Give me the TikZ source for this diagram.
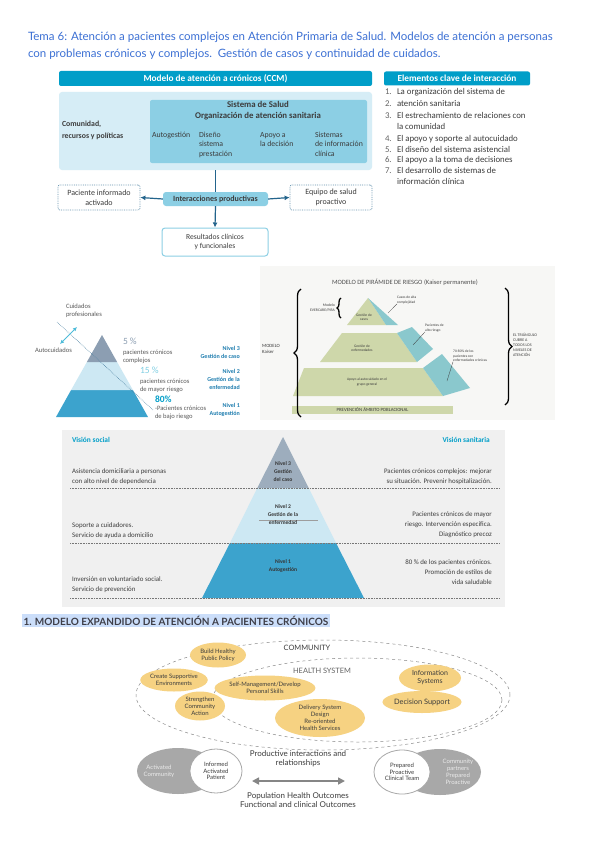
\documentclass[tikz,border=0pt]{standalone}
\usepackage{fontspec}
\setmainfont{Lato}
\newfontfamily\calfont{Carlito}
\usetikzlibrary{arrows.meta,shapes.geometric,decorations.pathreplacing}
\definecolor{titleblue}{RGB}{60,112,212}
\definecolor{ccmteal}{RGB}{0,158,200}
\definecolor{ccmlight}{RGB}{214,237,246}
\definecolor{ccmmid}{RGB}{140,207,228}
\definecolor{ccmarrow}{RGB}{35,100,140}
\definecolor{ink}{RGB}{60,60,60}
\definecolor{nivelteal}{RGB}{30,125,175}
\definecolor{pyrtop}{RGB}{140,158,178}
\definecolor{pyrmid}{RGB}{205,232,243}
\definecolor{pyrbot}{RGB}{60,163,205}
\definecolor{kgreen}{RGB}{206,215,170}
\definecolor{kteal}{RGB}{138,200,205}
\definecolor{kback}{RGB}{247,247,245}
\definecolor{panelgray}{RGB}{240,240,240}
\definecolor{ecmyellow}{RGB}{246,210,130}
\definecolor{ecmgray}{RGB}{168,168,168}
\definecolor{hlblue}{RGB}{203,222,250}
\definecolor{secink}{RGB}{62,62,72}
\begin{document}
\begin{tikzpicture}[x=1pt,y=-1pt,
  txt/.style={inner sep=0pt,outer sep=0pt,anchor=base west,text=ink},
  ccmtxt/.style={inner sep=0pt,outer sep=0pt,text=ink,font=\calfont\fontsize{7.8}{9.6}\selectfont},
  hdrbar/.style={fill=ccmteal,rounded corners=2pt,inner sep=0pt,text=white,font=\calfont\bfseries\fontsize{9.3}{10}\selectfont},
  dotbox/.style={draw=ccmarrow!70,densely dotted,line width=0.8pt,rounded corners=2pt,inner sep=0pt,align=center,text=ink,font=\calfont\fontsize{8}{9.6}\selectfont},
  conn/.style={draw=ccmarrow,line width=1.2pt},
  arr/.style={conn,-{Latex[length=5pt,width=5pt]}},
  listtxt/.style={txt,font=\calfont\fontsize{8.8}{10}\selectfont},
  pyrtxt/.style={txt,text=ink!85,font=\calfont\fontsize{6.6}{8}\selectfont},
  pct/.style={txt,font=\calfont\fontsize{9.5}{10}\selectfont},
  nivel/.style={inner sep=0pt,anchor=north east,align=right,text=nivelteal,font=\calfont\bfseries\fontsize{6}{8}\selectfont},
  ktiny/.style={inner sep=0pt,text=ink,font=\calfont\fontsize{3.6}{4.4}\selectfont,align=center},
  leader/.style={draw=ink,line width=0.3pt},
  bracedraw/.style={decorate,decoration={brace,amplitude=#1},line width=1.3pt},
  ptxt/.style={inner sep=0pt,text=ink,font=\calfont\fontsize{6.9}{9.8}\selectfont},
  pnivel/.style={inner sep=0pt,align=center,text=ink!90!black,font=\calfont\bfseries\fontsize{5.6}{8}\selectfont},
  dotline/.style={draw=ink!70,densely dotted,line width=0.6pt},
  yell/.style={ellipse,fill=ecmyellow,inner sep=0pt,align=center,text=ink,font=\fontsize{6}{7}\selectfont},
  ring/.style={ellipse,draw=ink!60,dashed,line width=0.5pt,inner sep=0pt},
  etxt/.style={inner sep=0pt,align=center,text=ink,font=\fontsize{8}{9.4}\selectfont}]
\path[use as bounding box,fill=white] (0,0) rectangle (600,848);
% title
\node[txt,text=titleblue,font=\fontsize{11.5}{12}\selectfont] (title1) at (28,41) {Tema 6: Atención a pacientes complejos en Atención Primaria de Salud. Modelos de atención a personas};
\node[txt,text=titleblue,font=\fontsize{11.5}{12}\selectfont] (title2) at (28,58) {con problemas crónicos y complejos.\ \ Gestión de casos y continuidad de cuidados.};
% CCM
\node[hdrbar,minimum width=313,minimum height=15] (ccmhdr) at (215.5,78.5) {Modelo de atención a crónicos (CCM)};
\node[fill=ccmlight,rounded corners=3pt,minimum width=313,minimum height=78,inner sep=0pt] (ccmbox) at (215.5,131) {};
\node[fill=ccmmid,rounded corners=2pt,minimum width=217,minimum height=63,inner sep=0pt] (sysbox) at (258.5,131.5) {};
\node[txt,font=\calfont\bfseries\fontsize{7.8}{8}\selectfont] (comun) at (62,127) {Comunidad,};
\node[txt,font=\calfont\bfseries\fontsize{7.8}{8}\selectfont] (recur) at (62,139) {recursos y políticas};
\node[inner sep=0pt,anchor=base,text=ink,font=\calfont\bfseries\fontsize{8.8}{9}\selectfont] (sissal) at (258,108) {Sistema de Salud};
\node[inner sep=0pt,anchor=base,text=ink,font=\calfont\bfseries\fontsize{8.8}{9}\selectfont] (orgsan) at (258,119) {Organización de atención sanitaria};
\node[ccmtxt,anchor=north west,align=left] (autog) at (152,132) {Autogestión};
\node[ccmtxt,anchor=north west,align=left] (disen) at (199,132) {Diseño\\sistema\\prestación};
\node[ccmtxt,anchor=north west,align=left] (apoyo) at (260,132) {Apoyo a\\la decisión};
\node[ccmtxt,anchor=north west,align=left] (sisinf) at (315,132) {Sistemas\\de información\\clínica};
\node[fill=ccmmid,rounded corners=3pt,minimum width=105,minimum height=14,inner sep=0pt,text=ink,font=\calfont\bfseries\fontsize{8}{8}\selectfont] (inter) at (215.5,199) {Interacciones productivas};
\node[dotbox,minimum width=82,minimum height=25] (pac) at (99,197.5) {Paciente informado\\activado};
\node[dotbox,minimum width=82,minimum height=25] (equ) at (331,197.5) {Equipo de salud\\proactivo};
\node[draw=ccmmid,line width=1pt,rounded corners=3pt,fill=white,minimum width=106,minimum height=28,inner sep=0pt,align=center,text=ink,font=\calfont\fontsize{7.6}{9}\selectfont] (res) at (215,242) {Resultados clínicos\\y funcionales};
\draw[conn] (ccmbox.south -| inter.north) -- (inter.north);
\draw[arr] (inter.west) -- (pac.east);
\draw[arr] (inter.east) -- (equ.west);
\draw[arr] (inter.south) -- (res.north);
% elementos clave
\node[hdrbar,minimum width=146,minimum height=14] (elemhdr) at (457,78.5) {Elementos clave de interacción};
\foreach \num/\yy/\ltext [count=\i] in {1./95/La organización del sistema de, 2./107/atención sanitaria, 3./119/El estrechamiento de relaciones con, /130/la comunidad, 4./142/El apoyo y soporte al autocuidado, 5./152/El diseño del sistema asistencial, 6./162/El apoyo a la toma de decisiones, 7./173/El desarrollo de sistemas de, /184/información clínica}
{
  \node[listtxt,text=ink!80] (num\i) at (385,\yy) {\num};
  \node[listtxt] (item\i) at (397,\yy) {\ltext};
}
% piramide de niveles (izquierda)
\fill[pyrbot] (56,417) -- (148,417) -- (132.9,390) -- (71.1,390) -- cycle;
\fill[pyrmid] (71.1,390) -- (132.9,390) -- (117.1,362) -- (86.9,362) -- cycle;
\fill[pyrtop] (86.9,362) -- (117.1,362) -- (102,335) -- cycle;
\coordinate (dl1) at (57,322);
\coordinate (dl2) at (153,410);
\draw[dotline,draw=ccmarrow!80] (dl1) -- (dl2);
\coordinate (auto1) at (60,344);
\coordinate (prof1) at (77,327);
\draw[draw=ccmteal!70,line width=1pt,{Latex[length=4pt,width=4pt]}-{Latex[length=4pt,width=4pt]}] (auto1) -- (prof1);
\node[pyrtxt] (cuidprof) at (66,308) {Cuidados};
\node[pyrtxt] (cuidprof2) at (66,316) {profesionales};
\node[pyrtxt] (autocuid) at (35,352) {Autocuidados};
\node[pct,text=pyrtop] (pct5) at (123,344) {5 \%};
\node[pyrtxt] (p5a) at (123,354) {pacientes crónicos};
\node[pyrtxt] (p5b) at (123,362) {complejos};
\node[pct,text=ccmteal!50] (pct15) at (140,373) {15 \%};
\node[pyrtxt] (p15a) at (140,383) {pacientes crónicos};
\node[pyrtxt] (p15b) at (140,391) {de mayor riesgo};
\node[pct,text=ccmteal,font=\calfont\bfseries\fontsize{9.5}{10}\selectfont] (pct80) at (155,402) {80\%};
\node[pyrtxt] (p80a) at (155,410) {-Pacientes crónicos};
\node[pyrtxt] (p80b) at (155,418) {de bajo riesgo};
\node[nivel] (niv3) at (240,346) {Nivel 3\\Gestión de caso};
\node[nivel] (niv2) at (240,369) {Nivel 2\\Gestión de la\\enfermedad};
\node[nivel] (niv1) at (240,403) {Nivel 1\\Autogestión};
% piramide de riesgo Kaiser
\fill[kback] (260,266) rectangle (555,420);
\node[inner sep=0pt,text=ink!90,font=\calfont\fontsize{6.5}{7}\selectfont] (ktitle) at (405,282) {MODELO DE PIRÁMIDE DE RIESGO (Kaiser permanente)};
\fill[kgreen] (368,298) -- (386,325) -- (347,325) -- cycle;
\fill[kteal] (368,298) -- (398,325) -- (386,325) -- cycle;
\fill[kgreen] (342,333) -- (397,333) -- (417,362) -- (320,362) -- cycle;
\fill[kteal] (397,333) -- (412,327) -- (433,349) -- (417,362) -- cycle;
\fill[kgreen] (304,368) -- (423,368) -- (443,396) -- (293,396) -- cycle;
\fill[kteal] (423,368) -- (442,354) -- (470,388) -- (443,396) -- cycle;
\node[fill=kgreen,minimum width=161,minimum height=8,inner sep=0pt,text=ink,font=\calfont\fontsize{4.8}{5}\selectfont] (kprev) at (372.5,410) {PREVENCIÓN ÁMBITO POBLACIONAL};
\node[ktiny] (kgcas) at (364,317) {Gestión de\\casos};
\node[ktiny] (kgenf) at (362,348) {Gestión de\\enfermedades};
\node[ktiny] (kapoy) at (367,382) {Apoyo al autocuidado en el\\grupo general};
\node[ktiny,anchor=north west,align=left] (kcasos) at (397,296) {Casos de alta\\complejidad};
\node[ktiny,anchor=north west,align=left] (kalto) at (425,324) {Pacientes de\\alto riesgo};
\node[ktiny,anchor=north west,align=left] (kcron) at (453,350) {70-80\% de los\\pacientes con\\enfermedades crónicas};
\coordinate (kc1) at (388,313);
\coordinate (kc2) at (413,345);
\coordinate (kc3) at (447,381);
\draw[leader] (kc1) -- (kcasos.south west);
\draw[leader] (kc2) -- (kalto.south west);
\draw[leader] (kc3) -- (kcron.south west);
\coordinate (kbl1) at (301,417);
\coordinate (kbl2) at (301,289);
\draw[bracedraw=7] (kbl1) -- (kbl2);
\coordinate (kbs1) at (341,318);
\coordinate (kbs2) at (341,298);
\draw[bracedraw=4] (kbs1) -- (kbs2);
\coordinate (kbr1) at (505,288);
\coordinate (kbr2) at (505,405);
\draw[bracedraw=7] (kbr1) -- (kbr2);
\node[ktiny,anchor=east,align=right,font=\calfont\fontsize{3.8}{4.6}\selectfont] (kever) at (335,308) {Modelo\\EVERCARE/PIRA};
\node[ktiny,anchor=west,align=left,font=\calfont\fontsize{4.8}{6}\selectfont] (kmod) at (262,349) {MODELO\\Kaiser};
\node[ktiny,anchor=west,align=left,font=\calfont\fontsize{4}{5}\selectfont] (ktri) at (513,345) {EL TRIÁNGULO\\CUBRE A\\TODOS LOS\\NIVELES DE\\ATENCIÓN};
% vision social / sanitaria
\fill[panelgray] (62,430) rectangle (505,607);
\fill[pyrbot] (202,598) -- (364,598) -- (336,543) -- (230,543) -- cycle;
\fill[pyrmid] (230,543) -- (336,543) -- (308.7,488) -- (257.3,488) -- cycle;
\fill[pyrtop!85] (257.3,488) -- (308.7,488) -- (283,437) -- cycle;
\coordinate (pl0) at (259,520);
\coordinate (pr0) at (318,520);
\draw[draw=ink!50,line width=0.4pt] (pl0) -- (pr0);
\foreach \yy [count=\i] in {488,543,598}
{
  \coordinate (dL\i) at (70,\yy);
  \coordinate (dR\i) at (500,\yy);
  \draw[dotline] (dL\i) -- (dR\i);
}
\node[txt,text=ccmteal,font=\calfont\bfseries\fontsize{7.4}{8}\selectfont] (vsoc) at (72,442) {Visión social};
\node[inner sep=0pt,anchor=base east,text=ccmteal,font=\calfont\bfseries\fontsize{7.4}{8}\selectfont] (vsan) at (490,442) {Visión sanitaria};
\node[pnivel,anchor=north] (pniv3) at (283,461) {Nivel 3\\Gestión\\del caso};
\node[pnivel,anchor=north] (pniv2) at (283,504) {Nivel 2\\Gestión de la\\enfermedad};
\node[pnivel,anchor=north] (pniv1) at (283,559) {Nivel 1\\Autogestión};
\node[ptxt,anchor=north west,align=left] (soc3) at (72,469) {Asistencia domiciliaria a personas\\con alto nivel de dependencia};
\node[ptxt,anchor=north west,align=left] (soc2) at (72,523) {Soporte a cuidadores.\\Servicio de ayuda a domicilio};
\node[ptxt,anchor=north west,align=left] (soc1) at (72,577) {Inversión en voluntariado social.\\Servicio de prevención};
\node[ptxt,anchor=north east,align=right] (san3) at (492,469) {Pacientes crónicos complejos: mejorar\\su situación. Prevenir hospitalización.};
\node[ptxt,anchor=north east,align=right] (san2) at (492,512) {Pacientes crónicos de mayor\\riesgo. Intervención específica.\\Diagnóstico precoz};
\node[ptxt,anchor=north east,align=right] (san1) at (492,560) {80 \% de los pacientes crónicos.\\Promoción de estilos de\\vida saludable};
% modelo expandido
\node[txt,fill=hlblue,inner sep=1.5pt,text=secink,font=\bfseries\fontsize{10}{12}\selectfont] (sec1) at (22,625) {1. MODELO EXPANDIDO DE ATENCIÓN A PACIENTES CRÓNICOS};
\node[ring,minimum width=374,minimum height=110] (community) at (323,695) {};
\node[ring,minimum width=290,minimum height=84] (healthsys) at (357,700) {};
\node[inner sep=0pt,text=ink,font=\fontsize{7.4}{8}\selectfont] (commlbl) at (307,648) {COMMUNITY};
\node[inner sep=0pt,text=ink!80,font=\fontsize{7.4}{8}\selectfont] (hslbl) at (322,671) {HEALTH SYSTEM};
\node[yell,minimum width=56,minimum height=25] (bhpp) at (218,655) {Build Healthy\\Public Policy};
\node[yell,minimum width=60,minimum height=23] (cse) at (174,680) {Create Supportive\\Environments};
\node[yell,minimum width=50,minimum height=29] (sca) at (200,706) {Strengthen\\Community\\Action};
\node[yell,minimum width=98,minimum height=25] (smd) at (265,688) {Self-Management/Develop\\Personal Skills};
\node[yell,minimum width=90,minimum height=38] (dsd) at (320,718) {Delivery System\\Design\\Re-oriented\\Health Services};
\node[yell,minimum width=62,minimum height=27,font=\fontsize{7}{8}\selectfont] (infsys) at (430,678) {Information\\Systems};
\node[yell,minimum width=74,minimum height=22,font=\fontsize{7.4}{8}\selectfont] (decsup) at (422,702) {Decision Support};
\node[ellipse,fill=ecmgray,minimum width=82,minimum height=46,inner sep=0pt] (actcom) at (178,771) {};
\node[ellipse,fill=white,draw=ecmgray,line width=0.8pt,minimum width=52,minimum height=44,inner sep=0pt,align=center,text=ink,font=\fontsize{6}{6.8}\selectfont] (infpat) at (216,771) {Informed\\Activated\\Patient};
\node[inner sep=0pt,align=center,text=white!92!black,font=\fontsize{6}{7.4}\selectfont] (actlbl) at (159,771) {Activated\\Community};
\node[ellipse,fill=ecmgray,minimum width=82,minimum height=46,inner sep=0pt] (compart) at (440,772) {};
\node[ellipse,fill=white,draw=ecmgray,line width=0.8pt,minimum width=56,minimum height=44,inner sep=0pt,align=center,text=ink,font=\fontsize{6}{6.8}\selectfont] (prepteam) at (402,772) {Prepared\\Proactive\\Clinical Team};
\node[inner sep=0pt,align=center,text=white!92!black,font=\fontsize{6}{6.8}\selectfont] (complbl) at (458,772) {Community\\partners\\Prepared\\Proactive};
\node[etxt] (prodint) at (298,759) {Productive interactions and\\relationships};
\coordinate (arrL) at (252,781);
\coordinate (arrR) at (345,781);
\draw[draw=ecmgray!80!black,line width=1.6pt,{Triangle[length=7pt,width=7pt]}-{Triangle[length=7pt,width=7pt]}] (arrL) -- (arrR);
\node[etxt] (popout) at (298,800) {Population Health Outcomes\\Functional and clinical Outcomes};
\end{tikzpicture}
\end{document}
